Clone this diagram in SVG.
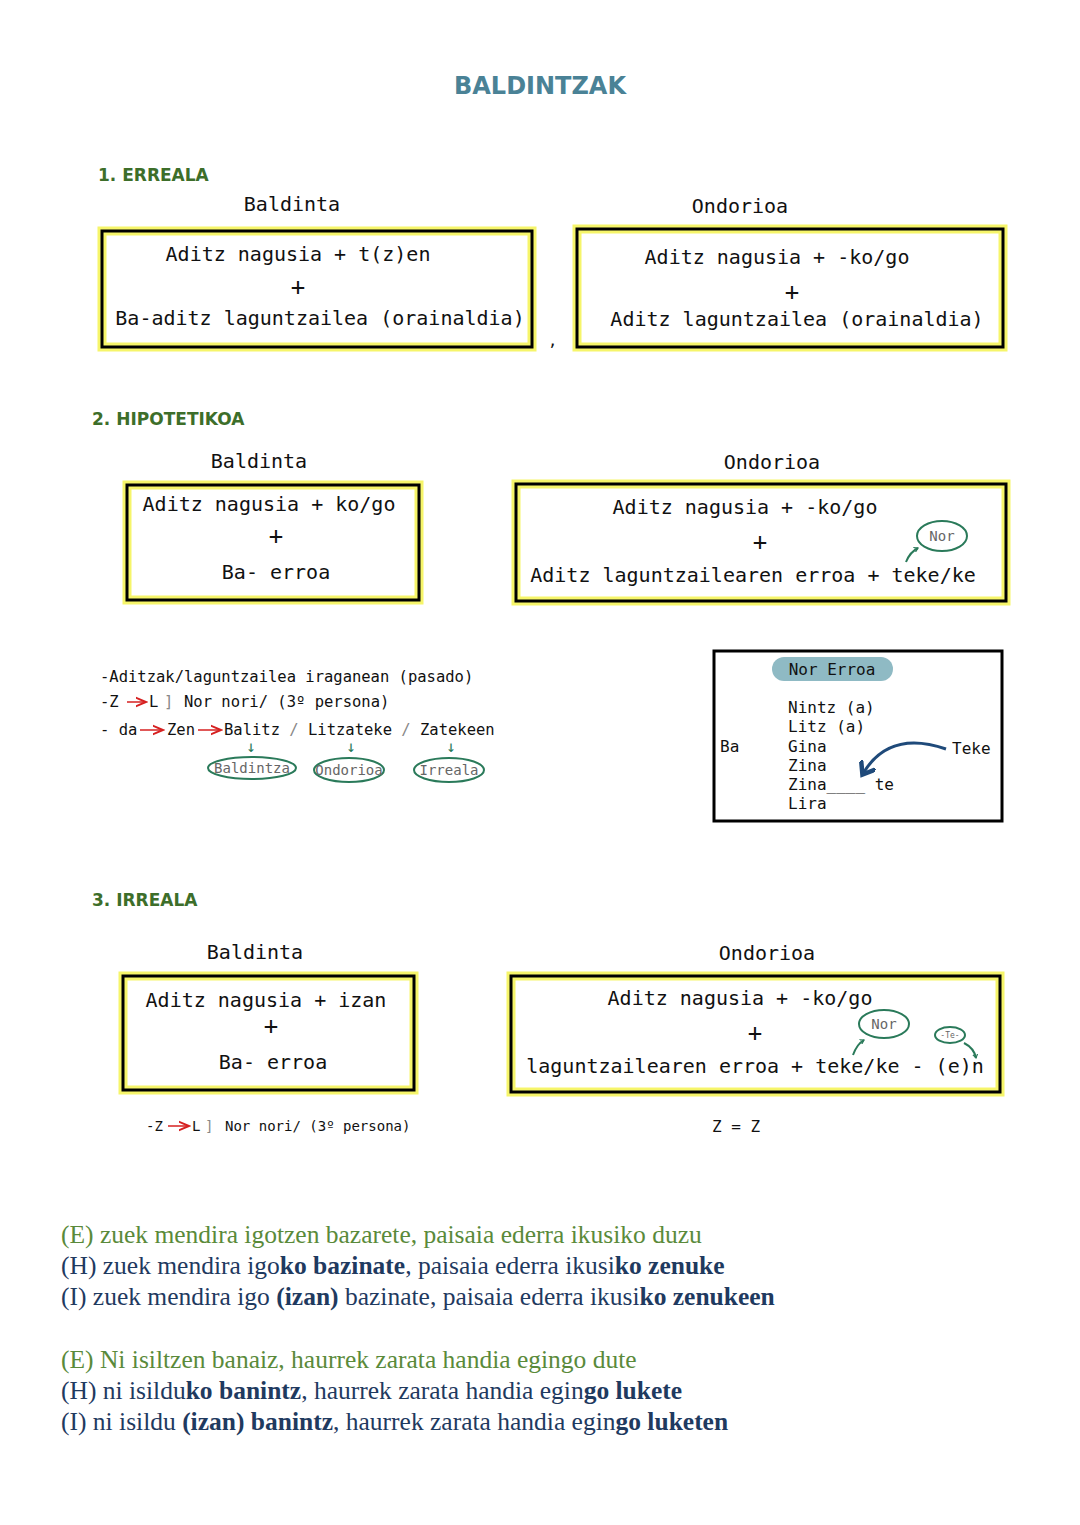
<svg xmlns="http://www.w3.org/2000/svg" width="1080" height="1525" viewBox="0 0 1080 1525">
<defs>
<style>
.m{font-family:"DejaVu Sans Mono",monospace;fill:#111}
.b{font-size:20px}
.s{font-size:15.5px}
.p{font-size:24px}
.h{font-family:"DejaVu Sans",sans-serif;font-weight:bold;fill:#3d6e2a}
.yb{fill:#fff;stroke:#f6f56a;stroke-width:9}
.kb{fill:none;stroke:#000;stroke-width:3}
.ov{fill:none;stroke:#2a7a5a;stroke-width:2}
.se{font-family:"Liberation Serif",serif;font-size:25.5px}
.g{fill:#5a8a3a}
.d{fill:#1f3a5f}
</style>
<marker id="ra" markerWidth="8" markerHeight="8" refX="7" refY="4" orient="auto"><path d="M0,1 L7,4 L0,7" fill="none" stroke="#d62020" stroke-width="1.3"/></marker>
<marker id="ga" markerWidth="6" markerHeight="6" refX="4" refY="3" orient="auto" markerUnits="userSpaceOnUse"><path d="M0,0.5 L4,3 L0,5.5" fill="none" stroke="#2a7a5a" stroke-width="1.2"/></marker>
<marker id="ba" markerWidth="6" markerHeight="6" refX="3" refY="3" orient="auto"><path d="M0,0 L4,3 L0,6" fill="none" stroke="#1f4a7a" stroke-width="1.5"/></marker>
</defs>
<rect width="1080" height="1525" fill="#fff"/>
<text x="540" y="94" text-anchor="middle" font-family="DejaVu Sans,sans-serif" font-weight="bold" font-size="24" fill="#4a8296">BALDINTZAK</text>

<text x="98" y="181" class="h" font-size="17">1. ERREALA</text>
<text x="292" y="211" text-anchor="middle" class="m b">Baldinta</text>
<text x="740" y="213" text-anchor="middle" class="m b">Ondorioa</text>
<g id="b1"><rect x="102" y="231" width="430" height="116" class="yb"/><rect x="102" y="231" width="430" height="116" class="kb"/>
<text x="298" y="261" text-anchor="middle" class="m b">Aditz nagusia + t(z)en</text>
<text x="298" y="295" text-anchor="middle" class="m p">+</text>
<text x="320" y="325" text-anchor="middle" class="m b">Ba-aditz laguntzailea (orainaldia)</text></g>
<text x="548" y="346" class="m s">,</text>
<g id="b2"><rect x="577" y="229" width="426" height="118" class="yb"/><rect x="577" y="229" width="426" height="118" class="kb"/>
<text x="777" y="264" text-anchor="middle" class="m b">Aditz nagusia + -ko/go</text>
<text x="792" y="300" text-anchor="middle" class="m p">+</text>
<text x="797" y="326" text-anchor="middle" class="m b">Aditz laguntzailea (orainaldia)</text></g>

<text x="92" y="425" class="h" font-size="17">2. HIPOTETIKOA</text>
<text x="259" y="468" text-anchor="middle" class="m b">Baldinta</text>
<text x="772" y="469" text-anchor="middle" class="m b">Ondorioa</text>
<g id="b3"><rect x="127" y="485" width="292" height="115" class="yb"/><rect x="127" y="485" width="292" height="115" class="kb"/>
<text x="269" y="511" text-anchor="middle" class="m b">Aditz nagusia + ko/go</text>
<text x="276" y="544" text-anchor="middle" class="m p">+</text>
<text x="276" y="579" text-anchor="middle" class="m b">Ba- erroa</text></g>
<g id="b4"><rect x="516" y="484" width="490" height="117" class="yb"/><rect x="516" y="484" width="490" height="117" class="kb"/>
<text x="745" y="514" text-anchor="middle" class="m b">Aditz nagusia + -ko/go</text>
<text x="760" y="550" text-anchor="middle" class="m p">+</text>
<text x="753" y="582" text-anchor="middle" class="m b">Aditz laguntzailearen erroa + teke/ke</text>
<ellipse cx="942" cy="536" rx="25" ry="15" class="ov" stroke-width="3"/>
<text x="942" y="541" text-anchor="middle" class="m" font-size="14" style="fill:#666">Nor</text>
<path d="M906,562 Q910,552 918,548" class="ov" stroke-width="1.5" marker-end="url(#ga)"/></g>

<g id="notes2">
<text x="100" y="682" class="m s">-Aditzak/laguntzailea iraganean (pasado)</text>
<text x="100" y="707" class="m s">-Z</text><text x="149" y="707" class="m s">L</text><text x="164" y="707" class="m s" style="fill:#888">]</text><text x="184" y="707" class="m s">Nor nori/ (3º persona)</text>
<text x="100" y="735" class="m s">- da</text><text x="167" y="735" class="m s">Zen</text><text x="224" y="735" class="m s">Balitz <tspan style="fill:#888">/</tspan> Litzateke <tspan style="fill:#888">/</tspan> Zatekeen</text>
<text x="251" y="752" text-anchor="middle" class="m" font-size="16" style="fill:#2a7a5a">↓</text>
<text x="351" y="752" text-anchor="middle" class="m" font-size="16" style="fill:#2a7a5a">↓</text>
<text x="451" y="752" text-anchor="middle" class="m" font-size="16" style="fill:#2a7a5a">↓</text>
<ellipse cx="252" cy="768" rx="44" ry="11" class="ov"/><text x="252" y="773" text-anchor="middle" class="m" font-size="14" style="fill:#666">Baldintza</text>
<ellipse cx="349" cy="770" rx="35" ry="12" class="ov"/><text x="349" y="775" text-anchor="middle" class="m" font-size="14" style="fill:#666">Ondorioa</text>
<ellipse cx="449" cy="770" rx="35" ry="12" class="ov"/><text x="449" y="775" text-anchor="middle" class="m" font-size="14" style="fill:#666">Irreala</text>
</g>

<g id="b5"><rect x="714" y="651" width="288" height="170" class="kb"/>
<rect x="772" y="657" width="121" height="24" rx="12" fill="#8fbac4"/>
<text x="832" y="675" text-anchor="middle" class="m" font-size="16">Nor Erroa</text>
<text x="720" y="752" class="m" font-size="16">Ba</text>
<text x="788" y="713" class="m" font-size="16">Nintz (a)</text>
<text x="788" y="732" class="m" font-size="16">Litz (a)</text>
<text x="788" y="752" class="m" font-size="16">Gina</text>
<text x="788" y="771" class="m" font-size="16">Zina</text>
<text x="788" y="790" class="m" font-size="16">Zina____ te</text>
<text x="788" y="809" class="m" font-size="16">Lira</text>
<text x="952" y="754" class="m" font-size="16">Teke</text>
<path d="M946,749 Q890,730 864,772" fill="none" stroke="#1f4a7a" stroke-width="3" marker-end="url(#ba)"/></g>

<text x="92" y="906" class="h" font-size="17">3. IRREALA</text>
<text x="255" y="959" text-anchor="middle" class="m b">Baldinta</text>
<text x="767" y="960" text-anchor="middle" class="m b">Ondorioa</text>
<g id="b6"><rect x="123" y="976" width="291" height="114" class="yb"/><rect x="123" y="976" width="291" height="114" class="kb"/>
<text x="266" y="1007" text-anchor="middle" class="m b">Aditz nagusia + izan</text>
<text x="271" y="1034" text-anchor="middle" class="m p">+</text>
<text x="273" y="1069" text-anchor="middle" class="m b">Ba- erroa</text></g>
<g id="b7"><rect x="511" y="976" width="489" height="116" class="yb"/><rect x="511" y="976" width="489" height="116" class="kb"/>
<text x="740" y="1005" text-anchor="middle" class="m b">Aditz nagusia + -ko/go</text>
<text x="755" y="1041" text-anchor="middle" class="m p">+</text>
<text x="755" y="1073" text-anchor="middle" class="m b">laguntzailearen erroa + teke/ke - (e)n</text>
<ellipse cx="884" cy="1024" rx="25" ry="14" class="ov" stroke-width="3"/>
<text x="884" y="1029" text-anchor="middle" class="m" font-size="14" style="fill:#666">Nor</text>
<path d="M853,1055 Q857,1044 864,1040" class="ov" stroke-width="1.5" marker-end="url(#ga)"/>
<ellipse cx="950" cy="1035" rx="15" ry="8" class="ov"/>
<text x="950" y="1038" text-anchor="middle" class="m" font-size="8" style="fill:#666">-Te-</text>
<path d="M964,1043 Q974,1048 976,1058" class="ov" stroke-width="1.5" marker-end="url(#ga)"/></g>
<text x="146" y="1131" class="m" font-size="14">-Z</text><text x="192" y="1131" class="m" font-size="14">L</text><text x="205" y="1131" class="m" font-size="14" style="fill:#888">]</text><text x="225" y="1131" class="m" font-size="14">Nor nori/ (3º persona)</text>
<text x="712" y="1132" class="m" font-size="16">Z = Z</text>

<g id="connectors">
<line x1="127" y1="702" x2="146" y2="702" stroke="#d62020" stroke-width="1.5" marker-end="url(#ra)"/>
<line x1="140" y1="730" x2="163" y2="730" stroke="#d62020" stroke-width="1.5" marker-end="url(#ra)"/>
<line x1="198" y1="730" x2="221" y2="730" stroke="#d62020" stroke-width="1.5" marker-end="url(#ra)"/>
<line x1="168" y1="1126" x2="189" y2="1126" stroke="#d62020" stroke-width="1.5" marker-end="url(#ra)"/>
</g>

<g id="examples">
<text x="61" y="1243" class="se g">(E) zuek mendira igotzen bazarete, paisaia ederra ikusiko duzu</text>
<text x="61" y="1274" class="se d">(H) zuek mendira igo<tspan font-weight="bold">ko bazinate</tspan>, paisaia ederra ikusi<tspan font-weight="bold">ko zenuke</tspan></text>
<text x="61" y="1305" class="se d">(I) zuek mendira igo <tspan font-weight="bold">(izan)</tspan> bazinate, paisaia ederra ikusi<tspan font-weight="bold">ko zenukeen</tspan></text>
<text x="61" y="1368" class="se g">(E) Ni isiltzen banaiz, haurrek zarata handia egingo dute</text>
<text x="61" y="1399" class="se d">(H) ni isildu<tspan font-weight="bold">ko banintz</tspan>, haurrek zarata handia egin<tspan font-weight="bold">go lukete</tspan></text>
<text x="61" y="1430" class="se d">(I) ni isildu <tspan font-weight="bold">(izan) banintz</tspan>, haurrek zarata handia egin<tspan font-weight="bold">go luketen</tspan></text>
</g>
</svg>
